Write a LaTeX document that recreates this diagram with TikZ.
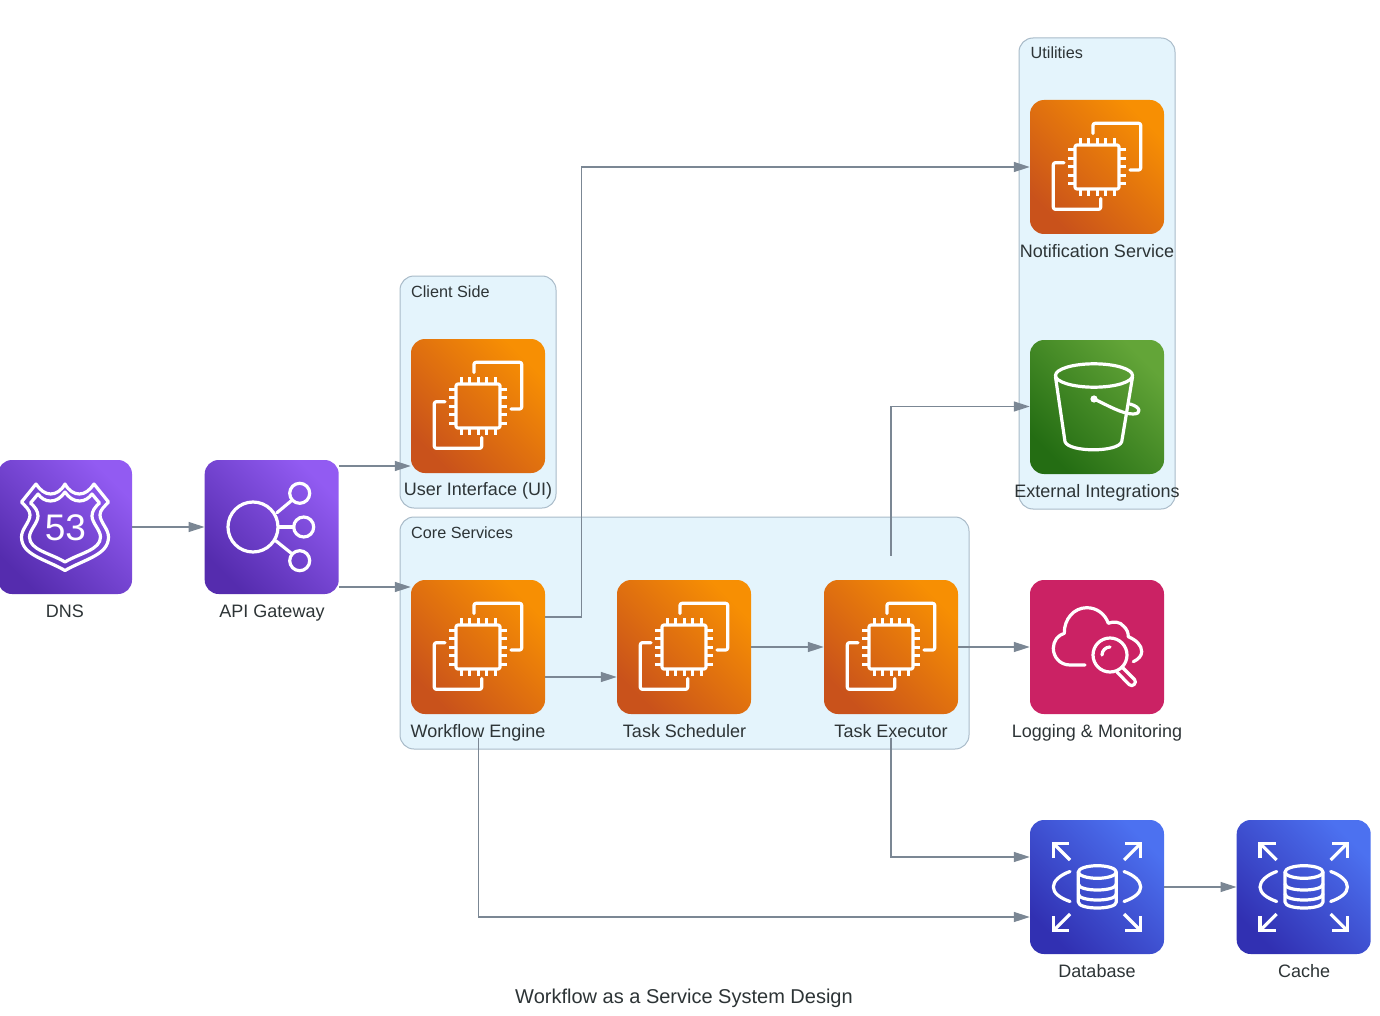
\documentclass[tikz,border=0pt]{standalone}
\usepackage{fontspec}
\setmainfont{Liberation Sans}
\usetikzlibrary{arrows.meta}
\definecolor{txt}{HTML}{2D3436}
\definecolor{edgec}{HTML}{7B8794}
\definecolor{clfill}{HTML}{E4F4FC}
\definecolor{cldraw}{HTML}{A9BBC9}
\tikzset{
  x=1pt,y=-1pt,
  tile/.style={minimum size=134pt,inner sep=0pt,rounded corners=14pt},
  orange/.style={tile,bottom color=ec2a,top color=ec2b,shading angle=-45},
  purple/.style={tile,bottom color=pura,top color=purb,shading angle=-45},
  green/.style={tile,bottom color=grna,top color=grnb,shading angle=-45},
  blue/.style={tile,bottom color=blua,top color=blub,shading angle=-45},
  pink/.style={tile,fill=pnka},
  cluster/.style={draw=cldraw,fill=clfill,line width=1pt,rounded corners=14pt,inner sep=0pt},
  lab/.style={text=txt,font=\fontsize{18}{20}\selectfont,inner sep=0pt,anchor=base},
  cllab/.style={text=txt,inner sep=0pt,font=\fontsize{16.2}{20}\selectfont,anchor=west},
  conn/.style={draw=edgec,line width=1.3pt,-{Triangle[length=16pt,width=10pt]}},
  ic/.style={draw=white,line width=3.2pt,line cap=round,line join=round},
  icm/.style={draw=white,line width=3.2pt,line cap=butt,line join=miter},
  iconchip/.pic={
    \draw[ic,rounded corners=2pt] (-22,-22) rectangle (22,22);
    \foreach \t in {-17,-8.5,0,8.5,17}{
      \draw[icm,line width=3pt] (\t,-22) -- (\t,-29);
      \draw[icm,line width=3pt] (\t,22) -- (\t,29);
      \draw[icm,line width=3pt] (-22,\t) -- (-29,\t);
      \draw[icm,line width=3pt] (22,\t) -- (29,\t);
    }
    \draw[ic,rounded corners=2pt] (-4,-33.5) -- (-4,-43.7) -- (43.7,-43.7) -- (43.7,3) -- (33,3);
    \draw[ic,rounded corners=2pt] (-33,-4.3) -- (-43.7,-4.3) -- (-43.7,42.3) -- (3.7,42.3) -- (3.7,31.5);
  },
  iconshield/.pic={
    \draw[ic] (0,-43)
      .. controls (4,-36) and (9,-33) .. (14.5,-33)
      .. controls (20,-33) and (25,-37) .. (29,-43)
      -- (43.5,-25)
      .. controls (39,-20) and (35,-17) .. (35,-12)
      .. controls (35,-5) and (43.5,2) .. (43.5,10)
      .. controls (43.5,28) and (20,32) .. (0,43.5)
      .. controls (-20,32) and (-43.5,28) .. (-43.5,10)
      .. controls (-43.5,2) and (-35,-5) .. (-35,-12)
      .. controls (-35,-17) and (-39,-20) .. (-43.5,-25)
      -- (-29,-43)
      .. controls (-25,-37) and (-20,-33) .. (-14.5,-33)
      .. controls (-9,-33) and (-4,-36) .. (0,-43) -- cycle;
    \draw[ic] (0,-35)
      .. controls (4,-29) and (9,-26) .. (14.5,-26)
      .. controls (20,-26) and (24,-29) .. (27,-33)
      -- (34.5,-24)
      .. controls (30,-20) and (27,-16) .. (27,-11)
      .. controls (27,-4) and (35.5,3) .. (35.5,10)
      .. controls (35.5,23) and (15,26) .. (0,35)
      .. controls (-15,26) and (-35.5,23) .. (-35.5,10)
      .. controls (-35.5,3) and (-27,-4) .. (-27,-11)
      .. controls (-27,-16) and (-30,-20) .. (-34.5,-24)
      -- (-27,-33)
      .. controls (-24,-29) and (-20,-26) .. (-14.5,-26)
      .. controls (-9,-26) and (-4,-29) .. (0,-35) -- cycle;
    \node[text=white,inner sep=0pt,font=\fontsize{37}{37}\selectfont] at (0.5,1) {53};
  },
  iconapi/.pic={
    \draw[ic] (-18.7,0) circle[radius=25];
    \draw[ic] (28,-33.7) circle[radius=10];
    \draw[ic] (32,0) circle[radius=10];
    \draw[ic] (28,33.7) circle[radius=10];
    \draw[ic] (5.3,-14.3) -- (19.7,-26.3);
    \draw[ic] (7,0) -- (22,0);
    \draw[ic] (4,13.7) -- (19.7,26.3);
  },
  iconbucket/.pic={
    \draw[ic] (-3,-31.5) ellipse[x radius=38.5,y radius=11.7];
    \draw[ic] (-41.5,-30) -- (-32,34.7) .. controls (-28,45.5) and (21,45.5) .. (24.7,34.7) -- (35.5,-30);
    \fill[white] (-3,-8) circle[radius=3.6];
    \draw[ic] (-3,-8) .. controls (10,-2) and (25,7) .. (36,7) .. controls (45,7) and (44,0) .. (33,-3);
  },
  iconcloud/.pic={
    \draw[ic] (-12,18) -- (-27,18)
      .. controls (-37,18) and (-43.7,10) .. (-43.7,1.3)
      .. controls (-43.7,-6) and (-39,-12) .. (-32.7,-13.7)
      .. controls (-33,-28) and (-23,-39.3) .. (-10.3,-39.3)
      .. controls (0,-39.3) and (8,-33) .. (11.3,-23.7)
      .. controls (16,-26) and (24,-25) .. (26.3,-21)
      .. controls (30,-18) and (31.3,-14) .. (31.3,-10.3)
      .. controls (39,-7) and (44.7,-2) .. (44.7,4.7)
      .. controls (44.7,9) and (41,12.5) .. (36.3,14.7);
    \draw[ic] (13,8) circle[radius=17];
    \draw[ic] (13,0) arc[start angle=-90,end angle=-180,radius=8];
    \draw[ic] (25,20) -- (37.5,32.5) .. controls (40.5,35.5) and (35.5,41) .. (32,37.5) -- (20,25);
  },
  icondb/.pic={
    \draw[ic] (0.3,-15) ellipse[x radius=19,y radius=6.3];
    \draw[ic] (-18.7,-15) -- (-18.7,15) .. controls (-18.7,23) and (19.3,23) .. (19.3,15) -- (19.3,-15);
    \draw[ic] (-18.7,-3) .. controls (-18.7,5) and (19.3,5) .. (19.3,-3);
    \draw[ic] (-18.7,7) .. controls (-18.7,15) and (19.3,15) .. (19.3,7);
    \draw[ic] (-27,-15.5) .. controls (-37,-12) and (-43.7,-6) .. (-43.7,0) .. controls (-43.7,6) and (-37,11) .. (-27,14.5);
    \draw[ic] (27,-15.5) .. controls (37,-12) and (43.7,-6) .. (43.7,0) .. controls (43.7,6) and (37,11) .. (27,14.5);
    \foreach \sx/\sy in {-1/-1,1/-1,-1/1,1/1}{
      \draw[icm] (\sx*43.7,\sy*29) -- (\sx*43.7,\sy*43.7) -- (\sx*28,\sy*43.7);
      \draw[icm] (\sx*43,\sy*43) -- (\sx*27,\sy*27);
    }
  },
}
\definecolor{ec2a}{HTML}{C9521B}
\definecolor{ec2b}{HTML}{F78F03}
\definecolor{pura}{HTML}{552CAE}
\definecolor{purb}{HTML}{925BF2}
\definecolor{grna}{HTML}{246D13}
\definecolor{grnb}{HTML}{63A538}
\definecolor{blua}{HTML}{3130B2}
\definecolor{blub}{HTML}{4C71F0}
\definecolor{pnka}{HTML}{CB2264}
\begin{document}
\begin{tikzpicture}
\useasboundingbox[fill=white] (0,0) rectangle (1380,1016);
% clusters
\node[cluster,minimum width=156pt,minimum height=232pt] (clientbox) at (478,392) {};
\node[cluster,minimum width=569pt,minimum height=232pt] (corebox) at (684.5,633) {};
\node[cluster,minimum width=156pt,minimum height=471pt] (utilbox) at (1097,273.5) {};
\node[cllab] (clientlab) at (411,291.5) {Client Side};
\node[cllab] (corelab) at (411,532.5) {Core Services};
\node[cllab] (utillab) at (1030.5,52.5) {Utilities};
% tiles
\node[purple] (dns) at (65,527) {};
\node[purple] (api) at (271.7,527) {};
\node[orange] (ui) at (478,406) {};
\node[orange] (wf) at (478,647) {};
\node[orange] (sched) at (684,647) {};
\node[orange] (exec) at (891,647) {};
\node[orange] (notif) at (1097,167) {};
\node[green] (ext) at (1097,407) {};
\node[pink] (logm) at (1097,647) {};
\node[blue] (db) at (1097,887) {};
\node[blue] (cache) at (1303.7,887) {};
% icons
\pic at (dns) {iconshield};
\pic at (api) {iconapi};
\pic at (ui) {iconchip};
\pic at (wf) {iconchip};
\pic at (sched) {iconchip};
\pic at (exec) {iconchip};
\pic at (notif) {iconchip};
\pic at (ext) {iconbucket};
\pic at (logm) {iconcloud};
\pic at (db) {icondb};
\pic at (cache) {icondb};
% labels
\node[lab] (dnslab) at (65,617) {DNS};
\node[lab] (apilab) at (272,617) {API Gateway};
\node[lab] (uilab) at (478,495) {User Interface (UI)};
\node[lab] (wflab) at (478,737) {Workflow Engine};
\node[lab] (schedlab) at (684.5,737) {Task Scheduler};
\node[lab] (execlab) at (891,737) {Task Executor};
\node[lab] (notiflab) at (1097,258) {Notification Service};
\node[lab] (extlab) at (1097,497) {External Integrations};
\node[lab] (loglab) at (1097,737) {Logging \& Monitoring};
\node[lab] (dblab) at (1097,977) {Database};
\node[lab] (cachelab) at (1304,977) {Cache};
\node[lab,font=\fontsize{20}{22}\selectfont] (title) at (684,1003) {Workflow as a Service System Design};
% connectors
\coordinate (execup) at ([yshift=24pt]exec.north);
\coordinate (execdown) at ([yshift=-24pt]exec.south);
\coordinate (wfdown) at ([xshift=.6pt,yshift=-24pt]wf.south);
\draw[conn] (dns.east) -- (api.west);
\draw[conn] ([yshift=61pt]api.east) -- ([yshift=-60pt]ui.west);
\draw[conn] ([yshift=-60pt]api.east) -- ([yshift=60pt]wf.west);
\draw[conn] ([yshift=30pt]wf.east) -- ++(36,0) |- (notif.west);
\draw[conn] ([yshift=-30pt]wf.east) -- ([yshift=-30pt]sched.west);
\draw[conn] (sched.east) -- (exec.west);
\draw[conn] (execup) |- ([yshift=.5pt]ext.west);
\draw[conn] (exec.east) -- (logm.west);
\draw[conn] (execdown) |- ([yshift=30pt]db.west);
\draw[conn] (wfdown) |- ([yshift=-30pt]db.west);
\draw[conn] (db.east) -- (cache.west);
\end{tikzpicture}
\end{document}
